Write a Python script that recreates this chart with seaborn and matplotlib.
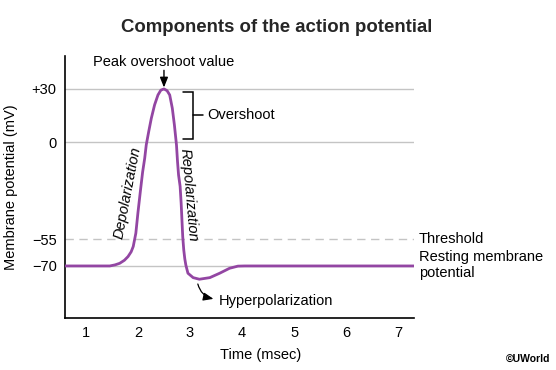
import matplotlib
matplotlib.use("Agg")
import matplotlib.pyplot as plt
import seaborn as sns
import pandas as pd

# Data
time_ms = [0.6, 1.46, 1.56, 1.65, 1.74, 1.81, 1.87, 1.91, 1.96, 2.0, 2.05, 2.09,
           2.13, 2.16, 2.207, 2.257, 2.32, 2.385, 2.44, 2.5, 2.56, 2.61, 2.66,
           2.70, 2.74, 2.76, 2.78, 2.81, 2.83, 2.86, 2.88, 2.90, 2.92, 2.96,
           3.06, 3.18, 3.38, 3.57, 3.76, 3.92, 4.05, 7.3]
potential_mv = [-70, -70, -69.4, -68.5, -66.8, -64.7, -62, -59, -51.5, -40, -27, -17,
                -9.2, -1.6, 5.9, 13.4, 21, 26.6, 29.3, 30, 29, 26.6, 19.1,
                9.7, -1.6, -11, -18.6, -25, -34.6, -53.4, -61, -66, -69.5, -74.1,
                -76.6, -77.5, -76.6, -74.1, -71.3, -70.1, -70, -70]
x_ticks = [1, 2, 3, 4, 5, 6, 7]
y_ticks = [30, 0, -55, -70]
y_tick_labels = ["+30", "0", "\u221255", "\u221270"]
grid_levels = [30, 0, -70]
threshold = -55

df = pd.DataFrame({"time": time_ms, "mv": potential_mv})

sns.set_theme(style="white")
plt.rcParams["font.family"] = ["Liberation Sans", "DejaVu Sans"]

fig = plt.figure(figsize=(5.56, 3.70), dpi=100)
ax = fig.add_axes([65 / 556, 52 / 370, 349 / 556, 262 / 370])

for g in grid_levels:
    ax.axhline(g, color="#c4c4c4", lw=1.0, zorder=1)
ax.axhline(threshold, color="#c4c4c4", lw=1.0, ls=(0, (6, 4)), zorder=1)

sns.lineplot(data=df, x="time", y="mv", ax=ax, color="#9346a3", lw=2.0,
             sort=False, zorder=3)
ax.lines[-1].set_solid_joinstyle("round")

ax.set_xlim(0.6, 7.3)
ax.set_ylim(-99.4, 48.6)
ax.set_xticks(x_ticks)
ax.set_yticks(y_ticks)
ax.set_yticklabels(y_tick_labels)
ax.tick_params(axis="both", length=0, labelsize=10.5, colors="black", pad=6)
for s in ["top", "right"]:
    ax.spines[s].set_visible(False)
for s in ["left", "bottom"]:
    ax.spines[s].set_color("black")
    ax.spines[s].set_linewidth(1.2)

ax.set_xlabel("Time (msec)", fontsize=10.5, color="black")
ax.xaxis.set_label_coords((261 - 65) / 349, -0.115)
ax.set_ylabel("Membrane potential (mV)", fontsize=10.5, color="black")
ax.yaxis.set_label_coords(-0.135, 0.5)

fig.suptitle("Components of the action potential", x=277 / 556, y=1 - 27 / 370,
             va="center", fontsize=13.4, fontweight="bold")

tk = dict(fontsize=10.5, color="black")
# Peak overshoot
ax.text(2.5, 45.3, "Peak overshoot value", ha="center", va="center", **tk)
ax.annotate("", xy=(2.5, 30.8), xytext=(2.5, 40.5),
            arrowprops=dict(arrowstyle="-|>,head_length=0.5,head_width=0.2",
                            color="black", lw=1.0, shrinkA=0, shrinkB=0))
# Overshoot bracket
bx0, bx1, bmid = 2.86, 3.05, 3.24
ax.plot([bx0, bx1, bx1, bx0], [28.3, 28.3, 1.8, 1.8], color="black", lw=1.1,
        solid_joinstyle="miter")
ax.plot([bx1, bmid], [15.1, 15.1], color="black", lw=1.1)
ax.text(3.34, 15.3, "Overshoot", ha="left", va="center", **tk)

# Phase labels
ax.text(1.81, -28.8, "Depolarization", rotation=79, ha="center", va="center",
        style="italic", rotation_mode="anchor", **tk)
ax.text(2.97, -29.9, "Repolarization", rotation=-85, ha="center", va="center",
        style="italic", rotation_mode="anchor", **tk)

# Right side labels
ax.text(7.39, -55, "Threshold", ha="left", va="center", clip_on=False, **tk)
ax.text(7.39, -61, "Resting membrane\npotential", ha="left", va="top",
        linespacing=1.15, clip_on=False, **tk)

# Hyperpolarization
ax.text(3.55, -90, "Hyperpolarization", ha="left", va="center", **tk)
ax.annotate("", xy=(3.45, -88.6), xytext=(3.15, -80.2),
            arrowprops=dict(arrowstyle="-|>,head_length=0.5,head_width=0.2",
                            color="black", lw=0.9, shrinkA=0, shrinkB=0,
                            connectionstyle="arc3,rad=0.3"))

fig.text(550 / 556, 1 - 359 / 370, "\u00a9UWorld", ha="right", va="center",
         fontsize=7.5, fontweight="bold", color="black")

fig.savefig("out.png", dpi=100, facecolor="white")
